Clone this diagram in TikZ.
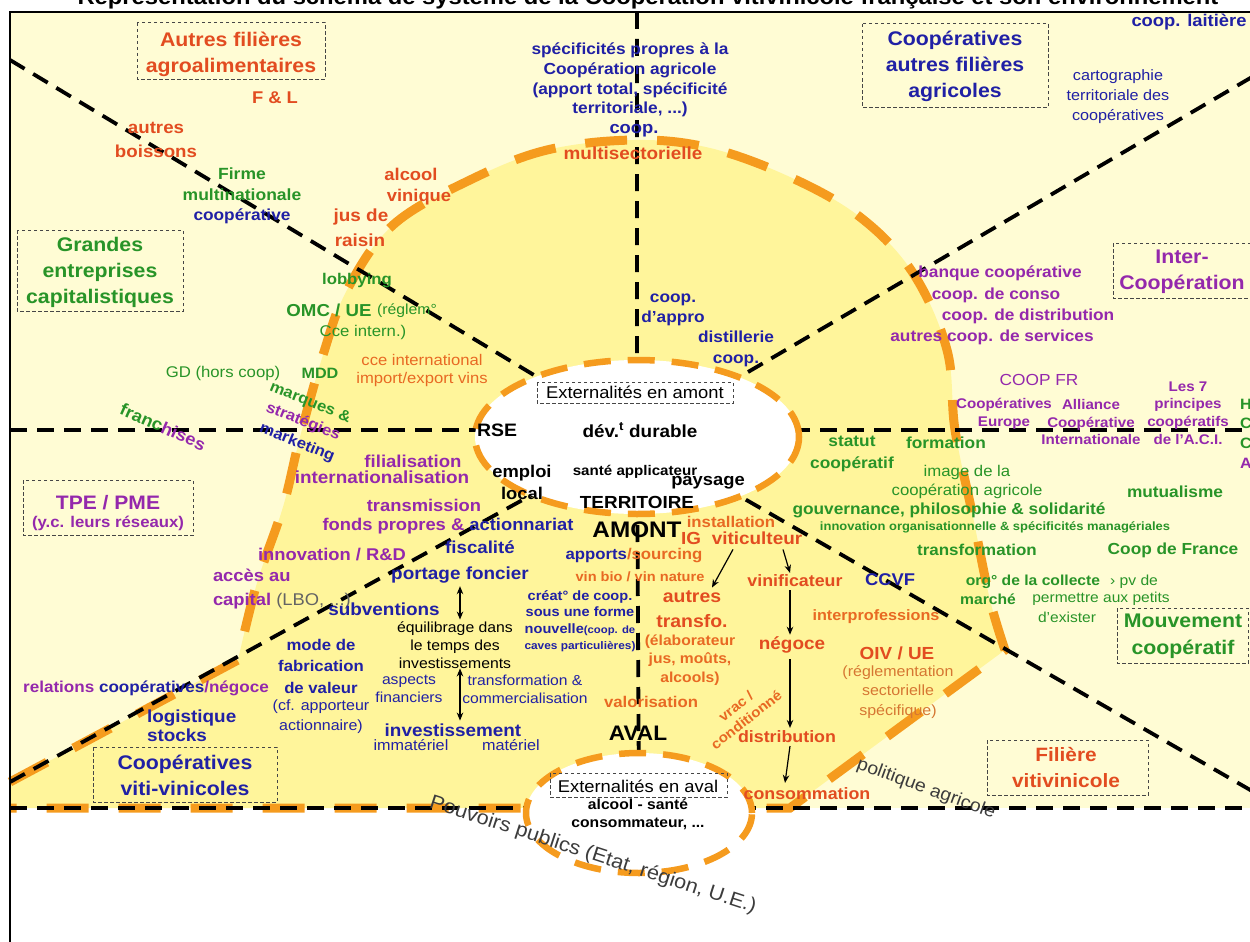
\documentclass[tikz,border=0pt]{standalone}
\usepackage{fontspec}
\setmainfont[FakeStretch=1.08]{Liberation Sans}
\usetikzlibrary{arrows.meta,shapes.geometric}
\definecolor{cPale}{RGB}{255,252,212}
\definecolor{cBright}{RGB}{255,245,155}
\definecolor{cLine}{RGB}{245,155,30}
\definecolor{cRed}{RGB}{226,76,32}
\definecolor{cOrange}{RGB}{232,105,35}
\definecolor{cBrown}{RGB}{214,118,50}
\definecolor{cBlue}{RGB}{32,32,165}
\definecolor{cGreen}{RGB}{40,148,40}
\definecolor{cPurple}{RGB}{148,40,172}
\definecolor{cGray}{RGB}{100,100,100}
\definecolor{cBox}{RGB}{70,70,70}
\definecolor{cWord}{RGB}{60,60,60}
\tikzset{
  tx/.style={inner sep=0pt, outer sep=0pt, align=center},
  fb/.style 2 args={font=\fontsize{#1}{#2}\selectfont\bfseries},
  fr/.style 2 args={font=\fontsize{#1}{#2}\selectfont},
  cR/.style={tx,text=cRed}, cO/.style={tx,text=cOrange}, cB/.style={tx,text=cBlue},
  cG/.style={tx,text=cGreen}, cP/.style={tx,text=cPurple}, cK/.style={tx,text=black},
  cW/.style={tx,text=cBrown},
  blk/.style={line width=3.8pt, dash pattern=on 17pt off 10pt},
  orng/.style={draw=cLine, line width=9pt, dash pattern=on 42pt off 30pt},
  ell/.style={ellipse, fill=white, draw=cLine, line width=6.5pt, dash pattern=on 27pt off 17pt, inner sep=0pt},
  boxst/.style={draw=cBox, line width=1pt, dash pattern=on 3.5pt off 2.5pt},
  arr/.style={-{Stealth[length=8pt,width=6.5pt]}, line width=1.2pt},
  darr/.style={{Stealth[length=8pt,width=6.5pt]}-{Stealth[length=8pt,width=6.5pt]}, line width=1.2pt},
}
\begin{document}
\begin{tikzpicture}[x=1pt,y=-1pt]
\useasboundingbox (0,0) rectangle (1250,942);
\clip (0,0) rectangle (1250,942);
% backgrounds
\fill[cPale] (10,12) rectangle (1252,808);
\path[fill=cBright] (10,782) -- plot[smooth, tension=0.6] coordinates {(238,660) (257,583) (283,507) (300,437) (323,355) (347,290) (393,225) (470,180) (547,150) (635,140) (710,148) (790,177) (860,217) (913,273) (947,350) (955,430) (973,517) (990,600) (1005,650)} -- (790,808) -- (10,808) -- cycle;
\path[orng] (10,782) -- plot[smooth, tension=0.6] coordinates {(238,660) (257,583) (283,507) (300,437) (323,355) (347,290) (393,225) (470,180) (547,150) (635,140) (710,148) (790,177) (860,217) (913,273) (947,350) (955,430) (973,517) (990,600) (1005,650)} -- (790,808) -- (10,808);
% black dashed lines
\coordinate (cA) at (637,437);
\coordinate (cV) at (639,813);
\coordinate (hL) at (10,430);
\coordinate (hR) at (1252,430);
\coordinate (bL) at (10,808);
\coordinate (bR) at (1252,808);
\coordinate (vT) at (637,12);
\coordinate (dUL) at (10,60);
\coordinate (dUR) at (1252,77);
\coordinate (dLL) at (10,782);
\coordinate (dLR) at (1252,791);
\draw[blk] (hL) -- (hR);
\draw[blk] (bL) -- (bR);
\draw[blk] (vT) -- (cA) -- (cV);
\draw[blk] (dUL) -- (cA);
\draw[blk] (dUR) -- (cA);
\draw[blk] (dLL) -- (cA);
\draw[blk] (dLR) -- (cA);
% ellipses
\node[ell, minimum width=324pt, minimum height=154pt] (amont) at (cA) {};
\node[ell, minimum width=226pt, minimum height=120pt] (aval) at (cV) {};
% dashed boxes
\draw[boxst] (137,23) rectangle (325,79);
\draw[boxst] (862,24) rectangle (1048,107);
\draw[boxst] (17,230) rectangle (183,311);
\draw[boxst] (1113,243) rectangle (1253,298);
\draw[boxst] (23,480) rectangle (193,535);
\draw[boxst] (1117,608) rectangle (1248,663);
\draw[boxst] (93,747) rectangle (277,802);
\draw[boxst] (987,740) rectangle (1148,795);
\draw[boxst] (537,382) rectangle (733,403);
\draw[boxst] (550,773) rectangle (727,797);
% frame
\draw[line width=2pt] (10,942) -- (10,12) -- (1254,12);
% title (clipped)
\begin{scope}
\clip (0,0) rectangle (1250,11);
\node[cK, fb={22}{26}, anchor=base] (title) at (648,5) {Représentation du schéma de système de la Coopération vitivinicole française et son environnement};
\end{scope}
% box titles
\node[cR, fb={19.7}{26}] (b1t) at (231,54) {Autres filières\\agroalimentaires};
\node[cB, fb={19.7}{26}] (b2t) at (955,66) {Coopératives\\autres filières\\agricoles};
\node[cG, fb={19.7}{26}] (b3t) at (100,272) {Grandes\\entreprises\\capitalistiques};
\node[cP, fb={19.7}{26}] (b4t) at (1182,272) {Inter-\\Coopération};
\node[cP, fb={19.5}{22}] (b5a) at (108,503) {TPE / PME};
\node[cP, fb={15.5}{18}] (b5b) at (108,523) {(y.c. leurs réseaux)};
\node[cG, fb={19.7}{27}] (b6t) at (1183,636) {Mouvement\\coopératif};
\node[cB, fb={19.7}{26}] (b7t) at (185,775) {Coopératives\\viti-vinicoles};
\node[cR, fb={19.3}{26}] (b8t) at (1066,768) {Filière\\vitivinicole};
% top left
\node[cR, fb={17}{20}] (fl) at (275,98) {F \& L};
\node[cR, fb={17.3}{24}] (ab) at (156,140) {autres\\boissons};
\node[cG, fb={16.2}{20}] (firme) at (242,174) {Firme};
\node[cG, fb={16.2}{20}] (multi) at (242,195) {multinationale};
\node[cB, fb={16}{20}] (coopv) at (242,216) {coopérative};
\node[cR, fb={17}{20}] (alcool) at (411,174) {alcool};
\node[cR, fb={17}{20}] (vinique) at (419,197) {vinique};
\node[cR, fb={17.5}{20}] (jus) at (361,217) {jus de};
\node[cR, fb={17.5}{20}] (raisin) at (360,240) {raisin};
\node[cG, fb={15.5}{20}] (lobby) at (357,281) {lobbying};
\node[cG, fb={17.3}{20}] (omc) at (329,310) {OMC / UE};
\node[cG, fr={14.6}{20}] (regl) at (407,311) {(réglem°};
\node[cG, fr={15.5}{20}] (cceI) at (363,332) {Cce intern.)};
\node[cG, fr={15.5}{20}] (gd) at (223,373) {GD (hors coop)};
\node[cG, fb={15}{20}] (mdd) at (320,373) {MDD};
\node[cO, fr={15.4}{18}] (cceint) at (422,371) {cce international\\import/export vins};
\node[cG, fb={15.4}{18}, rotate=-22] (marques) at (310,403) {marques \&};
\node[cP, fb={15.4}{18}, rotate=-22] (strat) at (303,422) {stratégies};
\node[cB, fb={15.4}{18}, rotate=-22] (mark) at (297,443) {marketing};
\node[tx, fb={17}{20}, rotate=-24] (franch) at (163,427) {\textcolor{cGreen}{franc}\textcolor{cPurple}{hises}};
% top center
\node[cB, fb={16}{19.7}] (spec) at (630,80) {spécificités propres à la\\Coopération agricole\\(apport total, spécificité\\territoriale, ...)};
\node[cB, fb={17}{20}] (coop1) at (634,131) {coop.};
\node[cR, fb={17.5}{20}] (multisect) at (633,153) {multisectorielle};
\node[cB, fb={16}{20}] (appro) at (673,310) {coop.\\d’appro};
\node[cB, fb={16}{21}] (distil) at (736,349) {distillerie\\coop.};
% amont ellipse
\node[cK, fr={17}{20}] (ext1) at (635,392) {Externalités en amont};
\node[cK, fb={18}{20}] (rse) at (497,430) {RSE};
\node[cK, fb={17.5}{20}] (dev) at (640,430) {dév.\textsuperscript{t} durable};
\node[cK, fb={17}{22}] (emploi) at (522,482) {emploi\\local};
\node[cK, fb={14}{18}] (sante) at (635,472) {santé applicateur};
\node[cK, fb={17}{20}] (paysage) at (708,483) {paysage};
\node[cK, fb={17.5}{20}] (terr) at (637,502) {TERRITOIRE};
\node[cK, fb={22.5}{26}] (amontT) at (637,530) {AMONT};
% center lower
\node[cO, fb={15.5}{20}] (install) at (731,522) {installation};
\node[cR, fb={17.5}{20}] (ig) at (691,538) {IG};
\node[cR, fb={17.5}{20}] (viti) at (757,538) {viticulteur};
\node[tx, fb={15.5}{20}] (apports) at (634,556) {\textcolor{cBlue}{apports}\textcolor{cOrange}{/sourcing}};
\node[cO, fb={13.5}{16}] (vinbio) at (640,577) {vin bio / vin nature};
\node[cB, fb={13.5}{16.5}] (creat) at (580,621) {créat° de coop.\\sous une forme\\nouvelle{\fontsize{10.5}{16}\selectfont(coop. de}\\{\fontsize{11}{14}\selectfont caves particulières)}};
\node[cR, fb={18}{25}] (autresT) at (692,609) {autres\\transfo.};
\node[cO, fb={14.5}{18.5}] (elab) at (690,660) {(élaborateur\\jus, moûts,\\alcools)};
\node[cO, fb={15.5}{20}] (valor) at (651,702) {valorisation};
\node[cK, fb={21}{24}] (avalT) at (638,733) {AVAL};
\node[cR, fb={16.5}{20}] (vinif) at (795,581) {vinificateur};
\node[cB, fb={17}{20}] (ccvf) at (890,580) {CCVF};
\node[cR, fb={17.5}{20}] (negoce) at (792,645) {négoce};
\node[cO, fb={15}{20}] (interp) at (876,617) {interprofessions};
\node[cR, fb={17.5}{20}] (oiv) at (897,653) {OIV / UE};
\node[cW, fr={14.8}{19.5}] (regl2) at (898,692) {(réglementation\\sectorielle\\spécifique)};
\node[cR, fb={16.5}{20}] (distrib) at (787,737) {distribution};
\node[cO, fb={14}{17}, rotate=38] (vrac) at (741,713) {vrac /\\conditionné};
\node[cR, fb={16.5}{20}] (conso) at (807,794) {consommation};
\node[tx, text=cWord, fr={18}{22}, rotate=-20] (politique) at (926,789) {politique agricole};
\node[tx, text=cWord, fr={20}{24}, rotate=-18] (pouvoirs) at (593,855) {Pouvoirs publics (Etat, région, U.E.)};
% aval ellipse
\node[cK, fr={17}{20}] (ext2) at (638,786) {Externalités en aval};
\node[cK, fb={14.5}{18}] (alcsante) at (638,814) {alcool - santé\\consommateur, ...};
% left middle
\node[cP, fb={17.2}{20}] (filial) at (413,461) {filialisation};
\node[cP, fb={17.5}{20}] (internat) at (382,477) {internationalisation};
\node[cP, fb={17}{20}] (transm) at (424,505) {transmission};
\node[tx, fb={17}{20}] (fonds) at (448,526) {\textcolor{cPurple}{fonds propres \&} \textcolor{cBlue}{actionnariat}};
\node[cB, fb={17.3}{20}] (fisc) at (480,547) {fiscalité};
\node[cP, fb={17}{20}] (innov) at (332,555) {innovation / R\&D};
\node[cP, fb={17}{20}, anchor=west] (acces) at (213,575) {accès au};
\node[cP, fb={17}{20}, anchor=west] (capital) at (213,601) {capital {\mdseries\color{cGray}(LBO, ...)}};
\node[cB, fb={17.5}{20}] (portage) at (460,575) {portage foncier};
\node[cB, fb={17.5}{20}] (subv) at (384,609) {subventions};
\node[cK, fr={14.6}{18}] (equil) at (455,645) {équilibrage dans\\le temps des\\investissements};
\node[cB, fb={15.5}{21.5}] (mode) at (321,666) {mode de\\fabrication\\de valeur};
\node[cB, fr={14.8}{20}] (cf) at (321,717) {(cf. apporteur\\actionnaire)};
\node[tx, fb={15.8}{20}] (relat) at (146,688) {\textcolor{cPurple}{relations} \textcolor{cBlue}{coopératives}\textcolor{cPurple}{/négoce}};
\node[cB, fb={17.5}{19}, anchor=west, align=left] (logist) at (147,726) {logistique\\stocks};
\node[cB, fr={14.5}{17.5}] (aspects) at (409,689) {aspects\\financiers};
\node[cB, fr={14.5}{18}] (transfC) at (525,689) {transformation \&\\commercialisation};
\node[cB, fb={17.5}{20}] (invest) at (453,730) {investissement};
\node[cB, fr={15}{18}] (immat) at (411,745) {immatériel};
\node[cB, fr={15}{18}] (mater) at (511,745) {matériel};
% right
\node[cB, fb={17}{20}] (laitiere) at (1189,22) {coop. laitière};
\node[cB, fr={15}{20}] (carto) at (1118,97) {cartographie\\territoriale des\\coopératives};
\node[cP, fb={16}{20}] (banque) at (1000,273) {banque coopérative};
\node[cP, fb={16}{20}] (conso2) at (996,295) {coop. de conso};
\node[cP, fb={16}{20}] (distr2) at (1028,316) {coop. de distribution};
\node[cP, fb={16}{20}] (autresS) at (992,337) {autres coop. de services};
\node[cP, fr={16}{20}] (coopfr) at (1039,380) {COOP FR};
\node[cP, fb={14}{18}] (europe) at (1004,414) {Coopératives\\Europe};
\node[cP, fb={14}{17.5}] (aci) at (1091,422) {Alliance\\Coopérative\\Internationale};
\node[cP, fb={14}{17.7}] (les7) at (1188,413) {Les 7\\principes\\coopératifs\\de l'A.C.I.};
\node[cG, fb={15}{18}, anchor=west] (cutH) at (1240,404) {H};
\node[cG, fb={15}{18}, anchor=west] (cutC) at (1240,423) {C};
\node[cG, fb={15}{18}, anchor=west] (cutCc) at (1240,443) {C};
\node[cP, fb={15}{18}, anchor=west] (cutA) at (1240,463) {A};
\node[cG, fb={16}{22}] (statut) at (852,454) {statut\\coopératif};
\node[cG, fb={16}{20}] (formation) at (946,443) {formation};
\node[cG, fr={15.5}{19}] (image) at (967,482) {image de la\\coopération agricole};
\node[cG, fb={16}{20}] (mutual) at (1175,492) {mutualisme};
\node[cG, fb={16}{20}] (gouv) at (949,510) {gouvernance, philosophie \& solidarité};
\node[cG, fb={12}{15}] (innovO) at (995,527) {innovation organisationnelle \& spécificités managériales};
\node[cG, fb={15.7}{20}] (transf) at (977,550) {transformation};
\node[cG, fb={16}{20}] (coopdf) at (1173,550) {Coop de France};
\node[cG, fb={14.5}{18}] (org) at (1033,582) {org° de la collecte};
\node[cG, fr={14.5}{18}] (pv) at (1134,582) {› pv de};
\node[cG, fb={14.5}{18}] (marche) at (988,599) {marché};
\node[cG, fr={14.4}{18}] (perm) at (1101,599) {permettre aux petits};
\node[cG, fr={14.4}{18}] (exister) at (1067,617) {d'exister};
% arrows
\draw[arr] ([xshift=-24pt,yshift=-5pt]viti.south) -- ([xshift=20pt,yshift=3pt]autresT.north);
\draw[arr] ([xshift=26pt,yshift=-5pt]viti.south) -- ([xshift=-5pt,yshift=2pt]vinif.north);
\draw[arr] ([xshift=-5pt,yshift=-3pt]vinif.south) -- ([xshift=-2pt,yshift=2pt]negoce.north);
\draw[arr] ([xshift=-2pt,yshift=-6pt]negoce.south) -- ([xshift=3pt,yshift=3pt]distrib.north);
\draw[arr] ([xshift=3pt,yshift=-3pt]distrib.south) -- ([xshift=-22pt,yshift=5pt]conso.north);
\draw[darr] ([yshift=-3pt]portage.south) -- ([yshift=2pt]portage.south |- equil.north);
\draw[darr] (portage.south |- equil.south) -- ([yshift=3pt]portage.south |- invest.north);
\end{tikzpicture}
\end{document}
